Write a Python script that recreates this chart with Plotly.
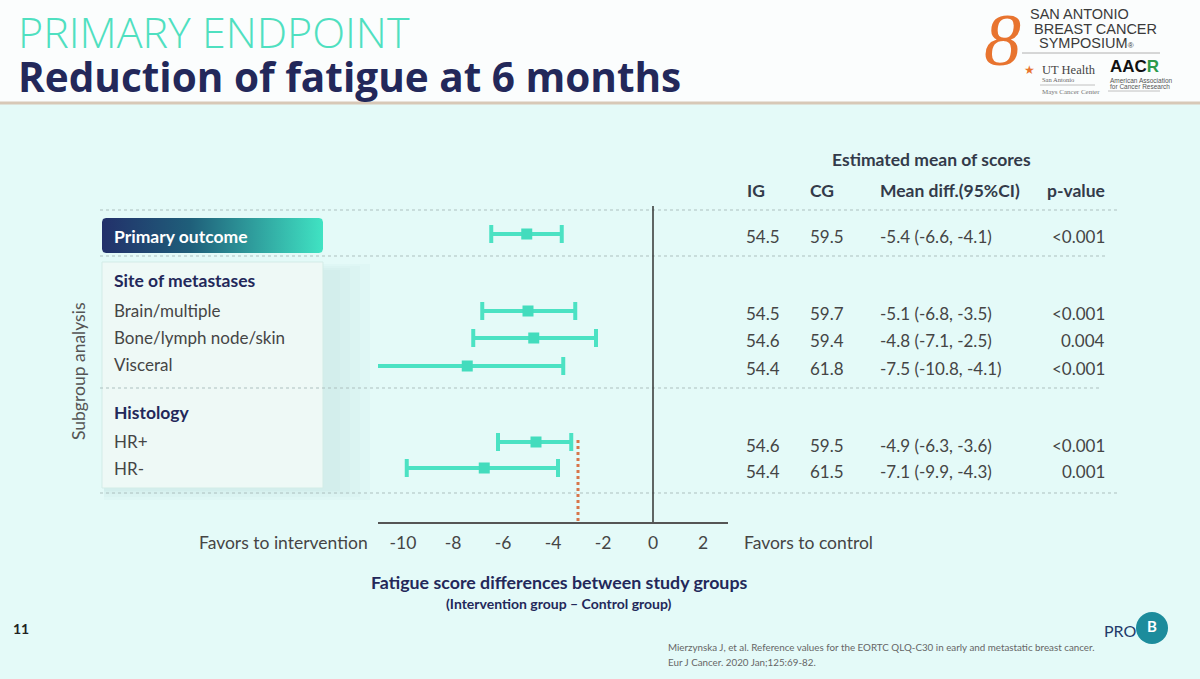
import numpy as np
import plotly.graph_objects as go

# ---------------- data ----------------
subgroups = ["Primary outcome", "Brain/multiple", "Bone/lymph node/skin", "Visceral", "HR+", "HR-"]
mean_plot = [-5.05, -5.0, -4.77, -7.43, -4.68, -6.75]
ci_low = [-6.47, -6.83, -7.19, -11.12, -6.2, -9.85]
ci_high = [-3.65, -3.11, -2.28, -3.59, -3.27, -3.8]
ig_vals = ["54.5", "54.5", "54.6", "54.4", "54.6", "54.4"]
cg_vals = ["59.5", "59.7", "59.4", "61.8", "59.5", "61.5"]
mean_diff = ["-5.4 (-6.6, -4.1)", "-5.1 (-6.8, -3.5)", "-4.8 (-7.1, -2.5)",
             "-7.5 (-10.8, -4.1)", "-4.9 (-6.3, -3.6)", "-7.1 (-9.9, -4.3)"]
p_values = ["<0.001", "<0.001", "0.004", "<0.001", "<0.001", "0.001"]
group_headers = ["Site of metastases", "Histology"]
tick_vals = [-10, -8, -6, -4, -2, 0, 2]
tick_labels = ["-10", "-8", "-6", "-4", "-2", "0", "2"]
threshold = -3.0

# ---------------- layout helpers (pixel positions) ----------------
W, H = 1200, 679
row_y = [234, 311, 338, 366, 442, 468]
header_y = [280, 412]
BODY = "Lato"
TITLE = "Open Sans"
NAVY = "#23285a"
GRAY = "#454545"
TEAL = "#4be2c3"
BG = "#e4faf8"

fig = go.Figure()

# forest plot
fig.add_trace(go.Scatter(
    x=mean_plot, y=row_y, mode="markers",
    marker=dict(symbol="square", size=11, color="#43dcbd"),
    error_x=dict(type="data", symmetric=False,
                 array=[h - m for h, m in zip(ci_high, mean_plot)],
                 arrayminus=[m - l for m, l in zip(mean_plot, ci_low)],
                 color=TEAL, thickness=4, width=9),
    xaxis="x", yaxis="y", showlegend=False, hoverinfo="skip", cliponaxis=False))

# gradient "Primary outcome" box on the page-pixel axes
def rounded_rect(x0, y0, x1, y1, r, n=8):
    pts = []
    for cx, cy, a0 in [(x1 - r, y0 + r, -90), (x1 - r, y1 - r, 0), (x0 + r, y1 - r, 90), (x0 + r, y0 + r, 180)]:
        for a in np.linspace(np.radians(a0), np.radians(a0 + 90), n):
            pts.append((cx + r * np.cos(a), cy + r * np.sin(a)))
    pts.append(pts[0])
    xs, ys = zip(*pts)
    return list(xs), list(ys)

bx, by = rounded_rect(102, 218, 323, 253, 4)
fig.add_trace(go.Scatter(
    x=bx, y=by, mode="lines", fill="toself", line=dict(width=0),
    fillgradient=dict(type="horizontal",
                      colorscale=[[0, "#22306a"], [0.4, "#1f5f7a"], [1, "#40e3c3"]]),
    xaxis="x2", yaxis="y2", showlegend=False, hoverinfo="skip"))

# PRO B logo circle
fig.add_trace(go.Scatter(
    x=[1152], y=[628], mode="markers+text", text=["B"],
    textfont=dict(family=BODY, size=15, color="white", weight="bold"),
    marker=dict(size=32, color="#1c8c9c", line=dict(width=0)),
    xaxis="x2", yaxis="y2", showlegend=False, hoverinfo="skip"))

shapes = []
# header white band + separator line
shapes.append(dict(type="rect", xref="x2", yref="y2", x0=0, x1=W, y0=0, y1=102,
                   fillcolor="#fbfdfd", line=dict(width=0), layer="below"))
shapes.append(dict(type="line", xref="x2", yref="y2", x0=0, x1=W, y0=103, y1=103,
                   line=dict(color="#d7c8b7", width=3), layer="below"))
# soft shadow for subgroup box
for k in range(4):
    shapes.append(dict(type="rect", xref="x2", yref="y2", x0=104, x1=370 - 10 * k, y0=264 + 2 * k, y1=500 - 3 * k,
                       fillcolor="rgba(110,180,170,0.035)", line=dict(width=0), layer="below"))
shapes.append(dict(type="rect", xref="x2", yref="y2", x0=102, x1=323, y0=262, y1=488,
                   fillcolor="#eef9f6", line=dict(color="#d3ece7", width=1), layer="below"))
# dotted separators
for yy, xend in [(210, 1117), (256, 1105), (388, 1100), (493, 1117)]:
    shapes.append(dict(type="line", xref="x2", yref="y2", x0=100, x1=xend, y0=yy, y1=yy,
                       line=dict(color="#adc0bf", width=1, dash="dot"), layer="below"))
# zero line and threshold line in data coords
shapes.append(dict(type="line", xref="x", yref="y", x0=0, x1=0, y0=206, y1=522,
                   line=dict(color="#333333", width=1.5)))
shapes.append(dict(type="line", xref="x", yref="y", x0=threshold, x1=threshold, y0=440, y1=522,
                   line=dict(color="#d8754a", width=3, dash="dot")))
# logo separator lines
shapes.append(dict(type="line", xref="x2", yref="y2", x0=1022, x1=1160, y0=53, y1=53,
                   line=dict(color="#b0b0b0", width=1)))
shapes.append(dict(type="line", xref="x2", yref="y2", x0=1040, x1=1095, y0=85, y1=85,
                   line=dict(color="#c0c0c0", width=1)))
shapes.append(dict(type="line", xref="x2", yref="y2", x0=1108, x1=1160, y0=91, y1=91,
                   line=dict(color="#c0c0c0", width=1)))

ann = []
def T(x, y, text, size, color=GRAY, weight="normal", xanchor="left", family=BODY, angle=0, style="normal"):
    ann.append(dict(xref="x2", yref="y2", x=x, y=y, text=text, showarrow=False,
                    xanchor=xanchor, yanchor="middle", textangle=angle,
                    font=dict(family=family, size=size, color=color, weight=weight, style=style)))

# titles
T(16, 31, "PRIMARY ENDPOINT", 43, color="#4fe0c0", weight=300, family=TITLE)
T(16, 76, "Reduction of fatigue at 6 months", 40.5, color=NAVY, weight="bold", family=TITLE)

# logo
T(1002, 40, "8", 74, color="#e8742f", family="Liberation Serif", style="italic", xanchor="center")
T(1028, 14, "SAN ANTONIO", 14.5, color="#3a3a3a", family="Liberation Sans")
T(1032, 28.5, "BREAST CANCER", 14.5, color="#3a3a3a", family="Liberation Sans")
T(1037, 43, "SYMPOSIUM<span style='font-size:8px'>®</span>", 14.5, color="#3a3a3a", family="Liberation Sans")
T(1029, 70, "★", 12, color="#e8742f", family="DejaVu Sans", xanchor="center")
T(1040, 70, "UT Health", 12.5, color="#444", family="Liberation Serif")
T(1040, 79, "San Antonio", 6.5, color="#666", family="Liberation Serif")
T(1040, 92, "Mays Cancer Center", 7, color="#777", family="Liberation Serif")
T(1108, 66, "AAC<span style='color:#2e9a4a'>R</span>", 17, color="#111", family="Liberation Sans", weight="bold")
T(1108, 80, "American Association", 6.5, color="#555", family="Liberation Sans")
T(1108, 86.5, "for Cancer Research", 6.5, color="#555", family="Liberation Sans")

# left panel
T(112, 236, "Primary outcome", 17.5, color="white", weight="bold")
T(112, header_y[0], group_headers[0], 17.5, color=NAVY, weight="bold")
T(112, header_y[1], group_headers[1], 17.5, color=NAVY, weight="bold")
for name, yy in zip(subgroups[1:], [310, 337, 364, 441, 468]):
    T(112, yy, name, 17, color=GRAY)
T(78, 372, "Subgroup analysis", 17.5, color="#555", angle=-90, xanchor="center")

# table
T(931, 159, "Estimated mean of scores", 17.5, color="#333a4a", weight="bold", xanchor="center")
T(745, 190, "IG", 17.5, color="#333a4a", weight="bold")
T(808, 190, "CG", 17.5, color="#333a4a", weight="bold")
T(878, 190, "Mean diff.(95%CI)", 17.5, color="#333a4a", weight="bold")
T(1045, 190, "p-value", 17.5, color="#333a4a", weight="bold")
for i, yy in enumerate(row_y):
    ty = yy + 2 if i < 4 else yy + 3
    T(744, ty, ig_vals[i], 17)
    T(808, ty, cg_vals[i], 17)
    T(878, ty, mean_diff[i], 17)
    T(1107, ty, p_values[i].replace("<", "&lt;"), 17, xanchor="right")

# axis side labels and titles
T(370, 542, "Favors to intervention", 17.5, xanchor="right")
T(742, 542, "Favors to control", 17.5)
T(559, 582, "Fatigue score differences between study groups", 17.8, color=NAVY, weight="bold", xanchor="center")
T(559, 603, "(Intervention group – Control group)", 14, color=NAVY, weight="bold", xanchor="center")

# footer
T(11, 628, "11", 14, color="#222", weight="bold")
T(666, 647, "Mierzynska J, et al. Reference values for the EORTC QLQ-C30 in early and metastatic breast cancer.", 9.8, color="#666")
T(666, 662, "Eur J Cancer. 2020 Jan;125:69-82.", 9.8, color="#666")
T(1102, 630, "PRO", 16, color="#233a6a")

fig.update_layout(
    width=W, height=H, margin=dict(l=0, r=0, t=0, b=0),
    paper_bgcolor=BG, plot_bgcolor="rgba(0,0,0,0)",
    shapes=shapes, annotations=ann, showlegend=False,
    xaxis=dict(domain=[378 / W, 728 / W], range=[-11, 3], anchor="y",
               tickvals=tick_vals, ticktext=tick_labels, ticks="",
               showline=True, linecolor="#555", linewidth=1.5,
               showgrid=False, zeroline=False, ticklabelstandoff=4,
               tickfont=dict(family=BODY, size=17.5, color=GRAY), fixedrange=True),
    yaxis=dict(domain=[(H - 522) / H, (H - 200) / H], range=[522, 200], anchor="x",
               visible=False, fixedrange=True),
    xaxis2=dict(domain=[0, 1], range=[0, W], anchor="y2", visible=False, fixedrange=True),
    yaxis2=dict(domain=[0, 1], range=[H, 0], anchor="x2", visible=False, fixedrange=True),
)

fig.write_html("out.html")
